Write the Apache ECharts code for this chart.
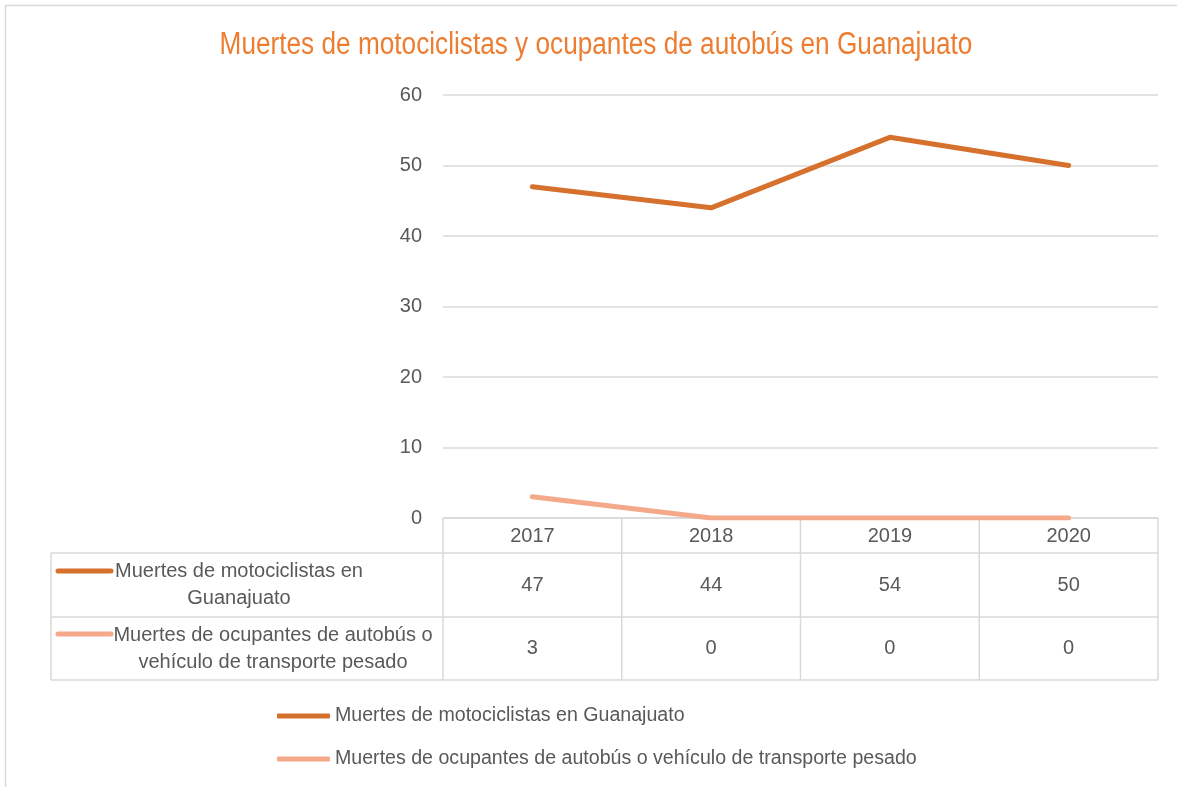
<!DOCTYPE html>
<html>
<head>
<meta charset="utf-8">
<script src="https://cdn.jsdelivr.net/npm/echarts@6/dist/echarts.min.js"></script>
<style>
html, body { margin: 0; padding: 0; background: #fff; }
#main { width: 1177px; height: 787px; }
</style>
</head>
<body>
<div id="main"></div>
<script>
// datos
var titulo = 'Muertes de motociclistas y ocupantes de autobús en Guanajuato';
var anios = ['2017', '2018', '2019', '2020'];
var motoNombre = 'Muertes de motociclistas en Guanajuato';
var autobusNombre = 'Muertes de ocupantes de autobús o vehículo de transporte pesado';
var motoValores = [47, 44, 54, 50];
var autobusValores = [3, 0, 0, 0];
var motoEtiqueta = 'Muertes de motociclistas en\nGuanajuato';
var autobusEtiqueta = 'Muertes de ocupantes de autobús o\nvehículo de transporte pesado';

var fuente = "'Liberation Sans', Arial, sans-serif";
var gris = '#595959';
var linea = '#d9d9d9';
var colMoto = '#d5702d';
var colAutobus = '#f4a98a';

var myChart = echarts.init(document.getElementById('main'));

var option = {
    backgroundColor: '#fff',
    animation: false,
    legend: {
        orient: 'vertical',
        left: 272,
        top: 701,
        icon: 'roundRect',
        itemWidth: 53,
        itemHeight: 5,
        itemGap: 23,
        textStyle: { color: gris, fontFamily: fuente, fontSize: 19.6 },
        data: [motoNombre, autobusNombre]
    },
    grid: { left: 443, right: 19, top: 95, bottom: 269, containLabel: false },
    xAxis: {
        type: 'category',
        data: anios,
        boundaryGap: true,
        axisLine: { show: false },
        axisTick: { show: false },
        axisLabel: { color: gris, fontFamily: fuente, fontSize: 20, margin: 8 }
    },
    yAxis: {
        type: 'value',
        min: 0,
        max: 60,
        interval: 10,
        axisLine: { show: false },
        axisTick: { show: false },
        axisLabel: { color: gris, fontFamily: fuente, fontSize: 20, margin: 21 },
        splitLine: { lineStyle: { color: linea, width: 1.5 } }
    },
    series: [
        {
            name: motoNombre,
            type: 'line',
            data: motoValores,
            symbol: 'none',
            lineStyle: { color: colMoto, width: 5, cap: 'round', join: 'round' },
            itemStyle: { color: colMoto },
            z: 3
        },
        {
            name: autobusNombre,
            type: 'line',
            data: autobusValores,
            symbol: 'none',
            lineStyle: { color: colAutobus, width: 5, cap: 'round', join: 'round' },
            itemStyle: { color: colAutobus },
            z: 3
        }
    ]
};

myChart.setOption(option);

// tabla de datos bajo el eje
var centros = anios.map(function (a, i) {
    return myChart.convertToPixel({ xAxisIndex: 0 }, i);
});
var paso = centros[1] - centros[0];
var bordes = [centros[0] - paso / 2].concat(centros.map(function (c) { return c + paso / 2; }));
var y0 = myChart.convertToPixel({ yAxisIndex: 0 }, 0);
var yFila1 = y0 + 35, yFila2 = yFila1 + 64, yFin = yFila2 + 63;
var xIzq = 51, xDer = bordes[bordes.length - 1];

var g = [];
// titulo (letra estrecha simulada con scaleX)
g.push({
    type: 'text', x: 596, y: 45, scaleX: 0.845, silent: true,
    style: { text: titulo, fill: '#ed7d31', font: '31px ' + fuente, textAlign: 'center', textVerticalAlign: 'middle' }
});

function seg(x1, y1, x2, y2) {
    g.push({ type: 'line', shape: { x1: x1, y1: y1, x2: x2, y2: y2 }, style: { stroke: linea, lineWidth: 1.5 }, silent: true });
}
seg(bordes[0], y0, xDer, y0);
[yFila1, yFila2, yFin].forEach(function (y) { seg(xIzq, y, xDer, y); });
bordes.forEach(function (x) { seg(x, y0, x, yFin); });
seg(xIzq, yFila1, xIzq, yFin);

function valores(arr, yc) {
    arr.forEach(function (v, i) {
        g.push({
            type: 'text', x: centros[i], y: yc, silent: true,
            style: { text: String(v), fill: gris, font: '20px ' + fuente, textAlign: 'center', textVerticalAlign: 'middle' }
        });
    });
}
valores(motoValores, (yFila1 + yFila2) / 2);
valores(autobusValores, (yFila2 + yFin) / 2);

function etiqueta(txt, color, xc, yc, yClave) {
    g.push({
        type: 'text', x: xc, y: yc, silent: true,
        style: { text: txt, fill: gris, font: '20px ' + fuente, textAlign: 'center', textVerticalAlign: 'middle', lineHeight: 27 }
    });
    g.push({
        type: 'line', silent: true,
        shape: { x1: 58, y1: yClave, x2: 111, y2: yClave },
        style: { stroke: color, lineWidth: 5, lineCap: 'round' }
    });
}
etiqueta(motoEtiqueta, colMoto, 239, (yFila1 + yFila2) / 2, yFila1 + 18);
etiqueta(autobusEtiqueta, colAutobus, 273, (yFila2 + yFin) / 2, yFila2 + 17);

// marco exterior
g.push({ type: 'rect', silent: true, shape: { x: 5.5, y: 5.5, width: 1300, height: 900 }, style: { fill: 'none', stroke: linea, lineWidth: 1.5 } });

myChart.setOption({ graphic: g });
</script>
</body>
</html>
